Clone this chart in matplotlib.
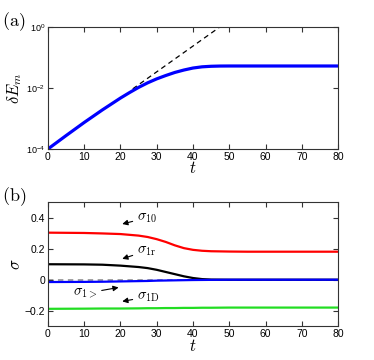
import matplotlib
matplotlib.use("Agg")
import matplotlib.pyplot as plt
from matplotlib.ticker import NullLocator

plt.rcParams['mathtext.fontset'] = 'cm'
plt.rcParams['mathtext.rm'] = 'Liberation Sans'
plt.rcParams['mathtext.it'] = 'Liberation Sans:italic'
plt.rcParams['mathtext.sf'] = 'Liberation Sans'
plt.rcParams['font.family'] = 'Liberation Sans'

# panel (a): energy perturbation growth
t_a = [0, 5, 10, 15, 20, 22.5, 25, 27.5, 30, 32.5, 35, 37.5, 40, 42.5, 45, 47.5, 50, 60, 70, 80]
dE = [1.0e-4, 2.75e-4, 7.41e-4, 1.91e-3, 4.68e-3, 7.08e-3, 1.047e-2, 1.479e-2, 1.995e-2,
      2.57e-2, 3.24e-2, 3.89e-2, 4.52e-2, 4.95e-2, 5.16e-2, 5.25e-2, 5.27e-2, 5.27e-2,
      5.27e-2, 5.27e-2]
t_fit = [23.4, 47.4]
dE_fit = [9.4e-3, 1.0e0]

# panel (b): growth rates
t_b = [0, 10, 15, 20, 25, 27.5, 30, 32.5, 35, 37.5, 40, 42.5, 45, 50, 55, 60, 70, 80]
s10 = [0.304, 0.302, 0.299, 0.295, 0.285, 0.276, 0.262, 0.244, 0.222, 0.204, 0.193, 0.187,
       0.184, 0.182, 0.181, 0.181, 0.181, 0.181]
s1r = [0.100, 0.099, 0.097, 0.091, 0.082, 0.075, 0.064, 0.050, 0.036, 0.022, 0.011, 0.004,
       0.001, 0.0, 0.0, 0.0, 0.0, 0.0]
s1g = [-0.015, -0.014, -0.013, -0.011, -0.009, -0.008, -0.006, -0.005, -0.004, -0.003,
       -0.002, -0.0015, -0.001, 0.0, 0.0, 0.0, 0.0, 0.0]
s1D = [-0.188, -0.187, -0.186, -0.186, -0.185, -0.184, -0.184, -0.183, -0.183, -0.182,
       -0.182, -0.181, -0.181, -0.18, -0.18, -0.18, -0.18, -0.18]

xticks = [0, 10, 20, 30, 40, 50, 60, 70, 80]
yticks_a = [1e-4, 1e-2, 1e0]
ylabels_a = [r'$10^{-4}$', r'$10^{-2}$', r'$10^{0}$']
yticks_b = [-0.2, 0, 0.2, 0.4]
ylabels_b = ['\u22120.2', '0', '0.2', '0.4']

fig = plt.figure(figsize=(3.74, 3.6), dpi=100)
ax1 = fig.add_axes([0.128, 0.586, 0.776, 0.339])
ax2 = fig.add_axes([0.128, 0.094, 0.776, 0.344])

for ax in (ax1, ax2):
    ax.tick_params(direction='in', top=True, right=True, length=3.5, width=0.8,
                   labelsize=7.5, pad=2, color='#333333')
    for sp in ax.spines.values():
        sp.set_color('#333333')
        sp.set_linewidth(0.8)
    ax.set_xlim(0, 80)
    ax.set_xticks(xticks)
    ax.set_xlabel(r'$t$', fontsize=12, labelpad=-1, math_fontfamily='cm')

ax1.plot(t_fit, dE_fit, '--', color='black', lw=0.9, dashes=(4, 3))
ax1.plot(t_a, dE, color='blue', lw=2.3)
ax1.set_yscale('log')
ax1.set_ylim(1e-4, 1e0)
ax1.set_yticks(yticks_a)
ax1.set_yticklabels(ylabels_a, fontsize=6.5)
for lab in ax1.get_yticklabels():
    lab.set_math_fontfamily('custom')
ax1.yaxis.set_minor_locator(NullLocator())
ax1.set_ylabel(r'$\delta E_m$', fontsize=12, labelpad=1, math_fontfamily='cm')

ax2.axhline(0, color='#999999', ls='--', lw=1.3, dashes=(3, 2.5), zorder=1)
ax2.plot(t_b, s10, color='red', lw=1.6)
ax2.plot(t_b, s1r, color='black', lw=1.6)
ax2.plot(t_b, s1g, color='blue', lw=1.6)
ax2.plot(t_b, s1D, color='#22dd22', lw=1.6)
ax2.set_ylim(-0.3, 0.5)
ax2.set_yticks(yticks_b)
ax2.set_yticklabels(ylabels_b)
ax2.set_ylabel(r'$\sigma$', fontsize=12, labelpad=1, math_fontfamily='cm')

arr = dict(arrowstyle='-|>', color='black', lw=0.8, mutation_scale=8, shrinkA=1, shrinkB=0)
ann = dict(fontsize=10.5, va='center', math_fontfamily='cm', arrowprops=arr)
ax2.annotate(r'$\sigma_{\rm 10}$', xy=(20.5, 0.36), xytext=(24.5, 0.40), **ann)
ax2.annotate(r'$\sigma_{\rm 1r}$', xy=(20.5, 0.135), xytext=(24.5, 0.186), **ann)
ax2.annotate(r'$\sigma_{\rm 1>}$', xy=(19.5, -0.05), xytext=(7.0, -0.088), **ann)
ax2.annotate(r'$\sigma_{\rm 1D}$', xy=(20.5, -0.14), xytext=(24.5, -0.11), **ann)

fig.text(0.005, 0.94, r'$\mathrm{(a)}$', fontsize=13, va='center', math_fontfamily='cm')
fig.text(0.005, 0.453, r'$\mathrm{(b)}$', fontsize=13, va='center', math_fontfamily='cm')

fig.savefig('out.png', dpi=100)
